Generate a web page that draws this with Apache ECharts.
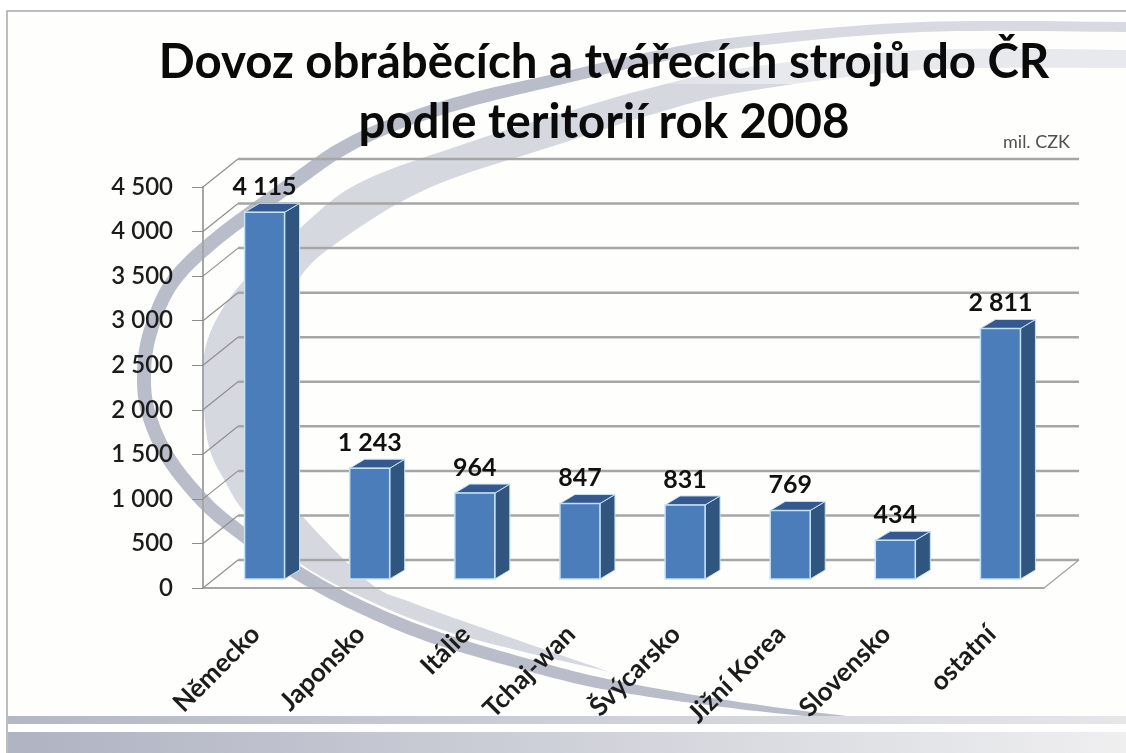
<!DOCTYPE html>
<html>
<head>
<meta charset="utf-8">
<title>Dovoz strojů</title>
<script src="https://cdn.jsdelivr.net/npm/echarts@6/dist/echarts.min.js"></script>
<style>
  html, body { margin: 0; padding: 0; background: #fff; }
  #chart { width: 1126px; height: 753px; }
</style>
</head>
<body>
<div id="chart"></div>
<script>
var categories = ["Německo", "Japonsko", "Itálie", "Tchaj-wan", "Švýcarsko", "Jižní Korea", "Slovensko", "ostatní"];
var values = [4115, 1243, 964, 847, 831, 769, 434, 2811];
var yTicks = [0, 500, 1000, 1500, 2000, 2500, 3000, 3500, 4000, 4500];

var FONT = "Lato, 'Open Sans', sans-serif";
var GRID_COLOR = "#a6a6a6";
// 3D look: wall sits behind the axes, bars stand half way in
var wallDx = 35, wallDy = -28;
var barDx = 9, barDy = -9, barW = 40, sideDx = 15, sideDy = -9;

function spaced(v) {
  return String(v).replace(/\B(?=(\d{3})+$)/g, " ");
}

// background swoosh, dark ribbon: x, y, width along the curve
var ribbonLine = [
  [1130, 27, 10], [922, 27, 10], [743, 42, 11], [650, 58, 12], [563, 78, 12], [470, 100, 13], [395, 124, 13],
  [340, 150, 14], [287, 187, 14], [215, 240, 14], [172, 283, 14], [150, 333, 14], [144, 376, 14], [149, 415, 14],
  [169, 459, 14], [205, 503, 14], [241, 533, 14], [298, 573, 14], [359, 606, 13], [431, 636, 13], [521, 663, 12],
  [600, 683, 11], [700, 700, 8], [800, 713, 5], [880, 720, 1]
];
// light band: outer edge then the way back along the inner edge
var lightOuter = [
  [1130, 50], [922, 50], [743, 68], [650, 88], [563, 113], [467, 143], [359, 183], [298, 230], [240, 285],
  [210, 333], [203, 376], [208, 443], [226, 483], [248, 516], [298, 562], [359, 596], [431, 626], [500, 646], [610, 672]
];
var lightInner = [
  [610, 672], [500, 634], [413, 603], [370, 583], [305, 519], [270, 470], [262, 400], [272, 340], [298, 280], [341, 240],
  [431, 187], [563, 143], [650, 115], [743, 92], [922, 70], [1130, 68]
];

// Catmull-Rom through the points, sampled so a plain polygon looks curved
function curve(pts) {
  var out = [];
  for (var i = 0; i < pts.length - 1; i++) {
    var p0 = pts[Math.max(i - 1, 0)], p1 = pts[i], p2 = pts[i + 1], p3 = pts[Math.min(i + 2, pts.length - 1)];
    for (var s = 0; s < 12; s++) {
      var t = s / 12, t2 = t * t, t3 = t2 * t;
      out.push([0, 1].map(function (k) {
        return 0.5 * (2 * p1[k] + (p2[k] - p0[k]) * t +
          (2 * p0[k] - 5 * p1[k] + 4 * p2[k] - p3[k]) * t2 +
          (3 * p1[k] - p0[k] - 3 * p2[k] + p3[k]) * t3);
      }));
    }
  }
  out.push(pts[pts.length - 1]);
  return out;
}

function ribbonPoints(line) {
  var left = [], right = [];
  line.forEach(function (p, i) {
    var a = line[Math.max(i - 1, 0)], b = line[Math.min(i + 1, line.length - 1)];
    var dx = b[0] - a[0], dy = b[1] - a[1], len = Math.sqrt(dx * dx + dy * dy);
    var nx = -dy / len * p[2] / 2, ny = dx / len * p[2] / 2;
    left.push([p[0] + nx, p[1] + ny]);
    right.unshift([p[0] - nx, p[1] - ny]);
  });
  return curve(left).concat(curve(right));
}

function hGradient(from, to) {
  return new echarts.graphic.LinearGradient(0, 0, 1, 0, [
    { offset: 0, color: from },
    { offset: 1, color: to }
  ]);
}

var myChart = echarts.init(document.getElementById("chart"));

var option = {
  animation: false,
  backgroundColor: "#fff",
  title: {
    text: "Dovoz obráběcích a tvářecích strojů do ČR\npodle teritorií rok 2008",
    left: 599,
    top: 28,
    textAlign: "center",
    textStyle: { fontFamily: FONT, fontSize: 47.4, fontWeight: 700, color: "#0a0a0a", lineHeight: 60 }
  },
  grid: { left: 203, right: 82, top: 187, bottom: 165, containLabel: false },
  xAxis: {
    type: "category",
    data: categories,
    axisLine: { lineStyle: { color: GRID_COLOR, width: 2 } },
    axisTick: { length: 11, lineStyle: { color: "#8c8c8c", width: 1 } },
    axisLabel: {
      interval: 0,
      rotate: 45,
      margin: 42,
      fontFamily: FONT,
      fontSize: 26,
      fontWeight: 700,
      color: "#1c1c1c"
    }
  },
  yAxis: {
    type: "value",
    min: 0,
    max: 4500,
    interval: 500,
    splitLine: { show: false },
    axisLine: { show: true, lineStyle: { color: GRID_COLOR, width: 2 } },
    axisTick: { show: true, length: 11, lineStyle: { color: "#8c8c8c", width: 1 } },
    axisLabel: {
      margin: 30,
      fontFamily: FONT,
      fontSize: 24,
      fontWeight: 600,
      color: "#1c1c1c",
      formatter: function (v) { return spaced(v); }
    }
  },
  series: [
    {
      // back wall lines and the diagonals joining them to the value axis
      type: "custom",
      z: 1,
      silent: true,
      data: yTicks.map(function (v) { return [0, v]; }),
      encode: { x: 0, y: 1 },
      renderItem: function (params, api) {
        var cs = params.coordSys;
        var y = api.coord([0, api.value(1)])[1];
        var isFloor = api.value(1) === 0;
        var children = [
          {
            type: "line",
            shape: { x1: cs.x, y1: y, x2: cs.x + wallDx, y2: y + wallDy },
            style: { stroke: "#8f8f8f", lineWidth: 1.2 }
          },
          {
            type: "line",
            shape: { x1: cs.x + wallDx, y1: y + wallDy, x2: cs.x + cs.width + wallDx, y2: y + wallDy },
            style: { stroke: GRID_COLOR, lineWidth: 2.5 }
          }
        ];
        if (isFloor) {
          children.push({
            type: "line",
            shape: { x1: cs.x + cs.width, y1: y, x2: cs.x + cs.width + wallDx, y2: y + wallDy },
            style: { stroke: GRID_COLOR, lineWidth: 1.5 }
          });
        }
        return { type: "group", children: children };
      }
    },
    {
      type: "custom",
      z: 3,
      data: values.map(function (v, i) { return [i, v]; }),
      encode: { x: 0, y: 1 },
      renderItem: function (params, api) {
        var top = api.coord([api.value(0), api.value(1)]);
        var base = api.coord([api.value(0), 0]);
        var l = top[0] + barDx - barW / 2, r = l + barW;
        var t = top[1] + barDy, b = base[1] + barDy;
        var edge = "#c4e2f6";
        return {
          type: "group",
          children: [
            {
              type: "polygon",
              shape: { points: [[r, t], [r + sideDx, t + sideDy], [r + sideDx, b + sideDy], [r, b]] },
              style: { fill: "#30567f", stroke: edge, lineWidth: 1 }
            },
            {
              type: "polygon",
              shape: { points: [[l, t], [l + sideDx, t + sideDy], [r + sideDx, t + sideDy], [r, t]] },
              style: { fill: "#35598f", stroke: edge, lineWidth: 1 }
            },
            {
              type: "rect",
              shape: { x: l, y: t, width: barW, height: b - t },
              style: { fill: "#4b7dbb", stroke: edge, lineWidth: 1.5 }
            },
            {
              type: "text",
              style: {
                x: (l + r) / 2,
                y: t + sideDy - 4,
                text: spaced(api.value(1)),
                align: "center",
                verticalAlign: "bottom",
                font: "700 25px " + FONT,
                fill: "#111"
              }
            }
          ]
        };
      }
    }
  ],
  graphic: [
    { type: "rect", z: -20, shape: { x: 7, y: 11, width: 1130, height: 760 }, style: { fill: "#fefefd", stroke: "#a8a8a8", lineWidth: 1.5 } },
    { type: "polygon", z: -15, shape: { points: curve(lightOuter).concat(curve(lightInner)) }, style: { fill: "#d6d8e0" } },
    { type: "polygon", z: -14, shape: { points: ribbonPoints(ribbonLine) }, style: { fill: "#b9bcc9" } },
    // the far right end of the swoosh fades out in the reference
    { type: "rect", z: -13, shape: { x: 560, y: 14, width: 566, height: 70 }, style: { fill: new echarts.graphic.LinearGradient(0, 0, 1, 0, [
      { offset: 0, color: "rgba(254,254,253,0)" },
      { offset: 0.35, color: "rgba(254,254,253,0.45)" },
      { offset: 1, color: "rgba(254,254,253,0.45)" }
    ]) } },
    { type: "rect", z: -12, shape: { x: 8, y: 716, width: 1118, height: 8 }, style: { fill: hGradient("#b4b8c3", "#e6e6e9") } },
    { type: "rect", z: -12, shape: { x: 8, y: 724, width: 1118, height: 8 }, style: { fill: "#fff" } },
    { type: "rect", z: -12, shape: { x: 8, y: 732, width: 1118, height: 21 }, style: { fill: hGradient("#afb3c2", "#efeff0") } },
    {
      type: "text",
      z: 5,
      style: { x: 1003, y: 142, text: "mil. CZK", verticalAlign: "middle", font: "400 18px " + FONT, fill: "#505050" }
    }
  ]
};

myChart.setOption(option);
</script>
</body>
</html>
